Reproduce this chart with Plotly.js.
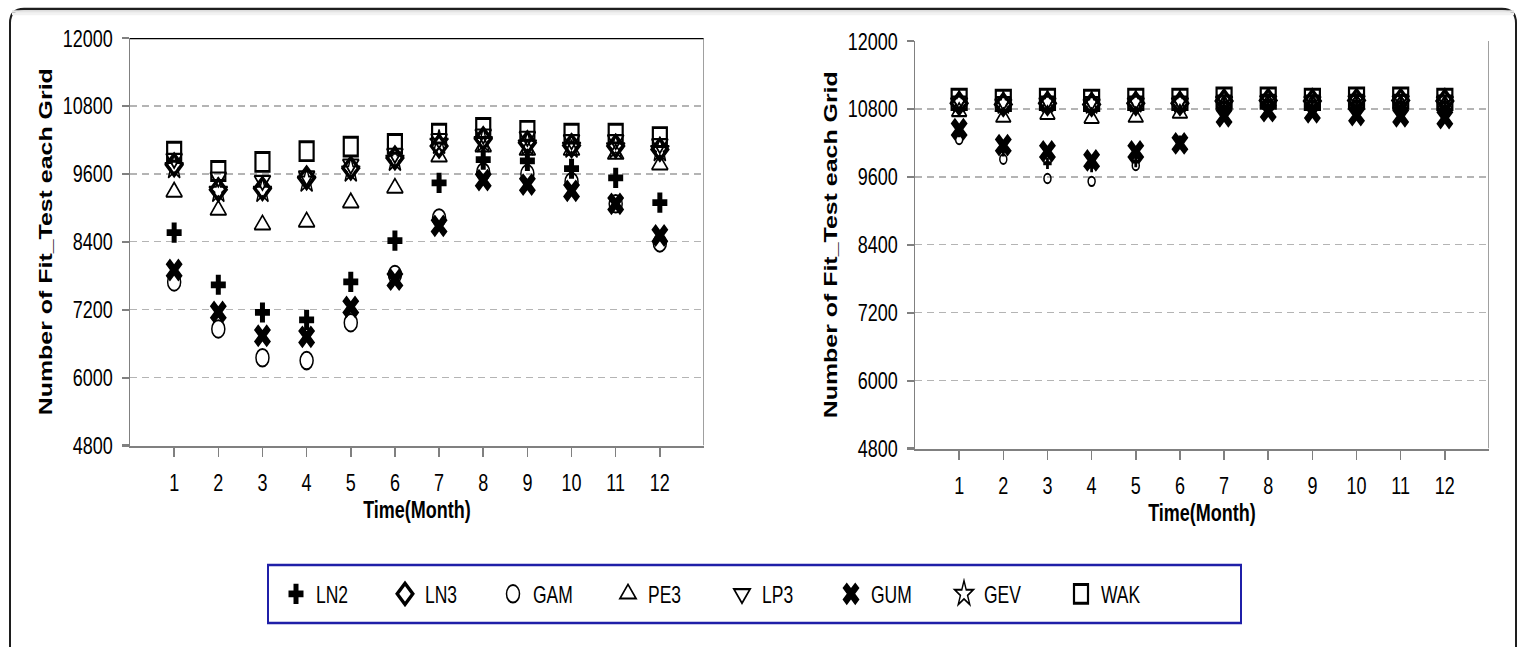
<!DOCTYPE html>
<html><head><meta charset="utf-8">
<script src="https://cdn.plot.ly/plotly-3.0.1.min.js"></script>
<style>
html,body{margin:0;padding:0;overflow:hidden;background:#fff;width:1524px;height:647px;}
#wrap{width:1524px;height:480px;transform:scaleY(1.347917);transform-origin:0 0;}
#chart{width:1524px;height:480px;}
</style></head><body><div id="wrap"><div id="chart"></div></div>
<script>
// categories
const months = [1,2,3,4,5,6,7,8,9,10,11,12];
const monthLabels = ['1','2','3','4','5','6','7','8','9','10','11','12'];
const yTicks = [4800,6000,7200,8400,9600,10800,12000];
const yTickLabels = ['4800','6000','7200','8400','9600','10800','12000'];
const seriesNames = ['LN2','LN3','GAM','PE3','LP3','GUM','GEV','WAK'];

// left panel values
const LN2_L = [8560,7640,7150,7020,7690,8420,9440,9850,9830,9690,9530,9090];
const LN3_L = [9760,9320,9340,9530,9700,9880,10090,10220,10150,10100,10090,10030];
const GAM_L = [7690,6860,6350,6300,6970,7820,8820,9630,9600,9460,9070,8380];
const PE3_L = [9280,8960,8700,8750,9090,9350,9900,10080,10020,10020,9950,9760];
const LP3_L = [9870,9540,9480,9560,9770,9960,10220,10300,10260,10200,10200,10130];
const GUM_L = [7900,7160,6740,6720,7250,7730,8680,9490,9410,9300,9070,8510];
const GEV_L = [9720,9300,9300,9480,9660,9850,10150,10180,10120,10080,10070,10020];
const WAK_L = [9990,9650,9810,10000,10080,10130,10310,10410,10360,10310,10310,10250];

// right panel values
const LN2_R = [10400,10060,9840,9780,9870,10230,10920,10940,10930,10930,10920,10920];
const LN3_R = [10900,10880,10900,10880,10900,10900,10940,10950,10940,10950,10950,10940];
const GAM_R = [10260,9910,9570,9520,9800,10200,10900,10930,10920,10920,10910,10900];
const PE3_R = [10750,10650,10700,10630,10650,10720,10890,10900,10890,10900,10890,10880];
const LP3_R = [10940,10930,10940,10930,10940,10940,10960,10970,10960,10970,10970,10960];
const GUM_R = [10440,10160,10050,9890,10050,10190,10670,10760,10740,10690,10670,10640];
const GEV_R = [10920,10900,10920,10900,10920,10920,10950,10960,10950,10960,10960,10950];
const WAK_R = [10970,10950,10970,10950,10970,10970,10990,10990,10970,10990,10990,10970];

const leftData = [LN2_L,LN3_L,GAM_L,PE3_L,LP3_L,GUM_L,GEV_L,WAK_L];
const rightData = [LN2_R,LN3_R,GAM_R,PE3_R,LP3_R,GUM_R,GEV_R,WAK_R];

const FONT = 'Liberation Sans, Arial, sans-serif';
const styles = [
  {symbol:'cross', sizeL:12.5, sizeR:7, lw:0},
  {symbol:'diamond-open', sizeL:12, sizeR:12, lw:3},
  {symbol:'circle-open', sizeL:13, sizeR:7, lw:1.5},
  {symbol:'triangle-up-open', sizeL:14, sizeR:13, lw:1.5},
  {symbol:'triangle-down-open', sizeL:14, sizeR:13, lw:1.6},
  {symbol:'x', sizeL:15, sizeR:15, lw:0},
  {symbol:'star-open', sizeL:14, sizeR:13, lw:1.4},
  {symbol:'square-open', sizeL:14, sizeR:15, lw:2.2}
];
const legendWidths = [64,63,70,69,64,68,72,60];

const traces = [];
seriesNames.forEach((nm,i)=>{
  const st = styles[i];
  traces.push({type:'scatter', mode:'markers', x:months, y:leftData[i], name:nm,
    legendgroup:nm, showlegend:true, xaxis:'x', yaxis:'y', legendwidth:legendWidths[i],
    marker:{symbol:st.symbol, size:st.sizeL, color:'#000', line:{color:'#000', width:st.lw}},
    hoverinfo:'x+y+name'});
});
seriesNames.forEach((nm,i)=>{
  const st = styles[i];
  traces.push({type:'scatter', mode:'markers', x:months, y:rightData[i], name:nm,
    legendgroup:nm, showlegend:false, xaxis:'x2', yaxis:'y2',
    marker:{symbol:st.symbol, size:st.sizeR, color:'#000', line:{color:'#000', width:st.lw}},
    hoverinfo:'x+y+name'});
});

const H = 480;
const py = v => (H - v/1.347917)/H;   // reference pixel y -> paper
const px = v => v/1524;

function xax(dom){
  return {domain:dom, range:[0,13], tickvals:months, ticktext:monthLabels,
    showline:true, linecolor:'#808080', linewidth:1.5, ticks:'outside', ticklen:7,
    tickcolor:'#808080', tickwidth:1.5, showgrid:false, zeroline:false,
    tickfont:{family:FONT, size:18, color:'#000'}, ticklabelstandoff:4,
    title:{text:'Time(Month)', font:{family:FONT, size:18, weight:700, color:'#000'}, standoff:0},
    fixedrange:true};
}
function yax(dom){
  return {domain:dom, range:[4800,12000], tickvals:yTicks, ticktext:yTickLabels,
    showline:true, linecolor:'#808080', linewidth:1.5, ticks:'outside', ticklen:7,
    tickcolor:'#808080', tickwidth:1.5, showgrid:true, gridcolor:'#b4b4b4', gridwidth:1,
    griddash:'7px,5px', zeroline:false, ticklabelstandoff:5,
    tickfont:{family:FONT, size:18, color:'#000'},
    title:{text:'Number of Fit_Test each Grid', font:{family:FONT, size:18.5, weight:700, color:'#000'}, standoff:5},
    fixedrange:true};
}

const fx0 = px(10), fx1 = px(1516), fyT = py(9), fyB = -0.05;
const rx = px(14), ry = 14/1.347917/H;
const framePath = `M ${fx0},${fyB} L ${fx0},${fyT-ry} Q ${fx0},${fyT} ${fx0+rx},${fyT} L ${fx1-rx},${fyT} Q ${fx1},${fyT} ${fx1},${fyT-ry} L ${fx1},${fyB}`;

const layout = {
  width:1524, height:480,
  margin:{l:0,r:0,t:0,b:0},
  paper_bgcolor:'#fff', plot_bgcolor:'#fff',
  font:{family:FONT, color:'#000'},
  xaxis: xax([px(130), px(704)]),
  yaxis: yax([py(445.5), py(38)]),
  xaxis2: Object.assign(xax([px(915), px(1489)]), {anchor:'y2'}),
  yaxis2: Object.assign(yax([py(448.5), py(41)]), {anchor:'x2'}),
  showlegend:true,
  legend:{orientation:'h', x:px(276), xanchor:'left', y:py(594), yanchor:'middle',
    bgcolor:'rgba(0,0,0,0)', borderwidth:0, font:{family:FONT, size:17.5, color:'#000'},
    itemclick:false, itemdoubleclick:false, traceorder:'normal'},
  shapes:[
    {type:'path', xref:'paper', yref:'paper', path:framePath, line:{color:'#1e1e1e', width:2}},
    {type:'line', xref:'paper', yref:'paper', x0:px(12), x1:px(1514), y0:py(11.5), y1:py(11.5), line:{color:'#e4e4e4', width:2}},
    {type:'line', xref:'paper', yref:'paper', x0:px(12), x1:px(1514), y0:py(14), y1:py(14), line:{color:'#f2f2f2', width:2}},
    {type:'rect', xref:'paper', yref:'paper', x0:px(268), x1:px(1241), y0:py(623), y1:py(565), line:{color:'#1f1fa8', width:2}, fillcolor:'rgba(0,0,0,0)'},
    {type:'line', xref:'x', yref:'y', x0:0, x1:13, y0:12000, y1:12000, line:{color:'#000', width:2}},
    {type:'line', xref:'x', yref:'y', x0:13, x1:13, y0:4800, y1:12000, line:{color:'#808080', width:1.5}},
    {type:'line', xref:'x2', yref:'y2', x0:13, x1:13, y0:4800, y1:12000, line:{color:'#808080', width:1.5}}
  ]
};

Plotly.newPlot('chart', traces, layout, {displayModeBar:false, staticPlot:true});
</script></body></html>
